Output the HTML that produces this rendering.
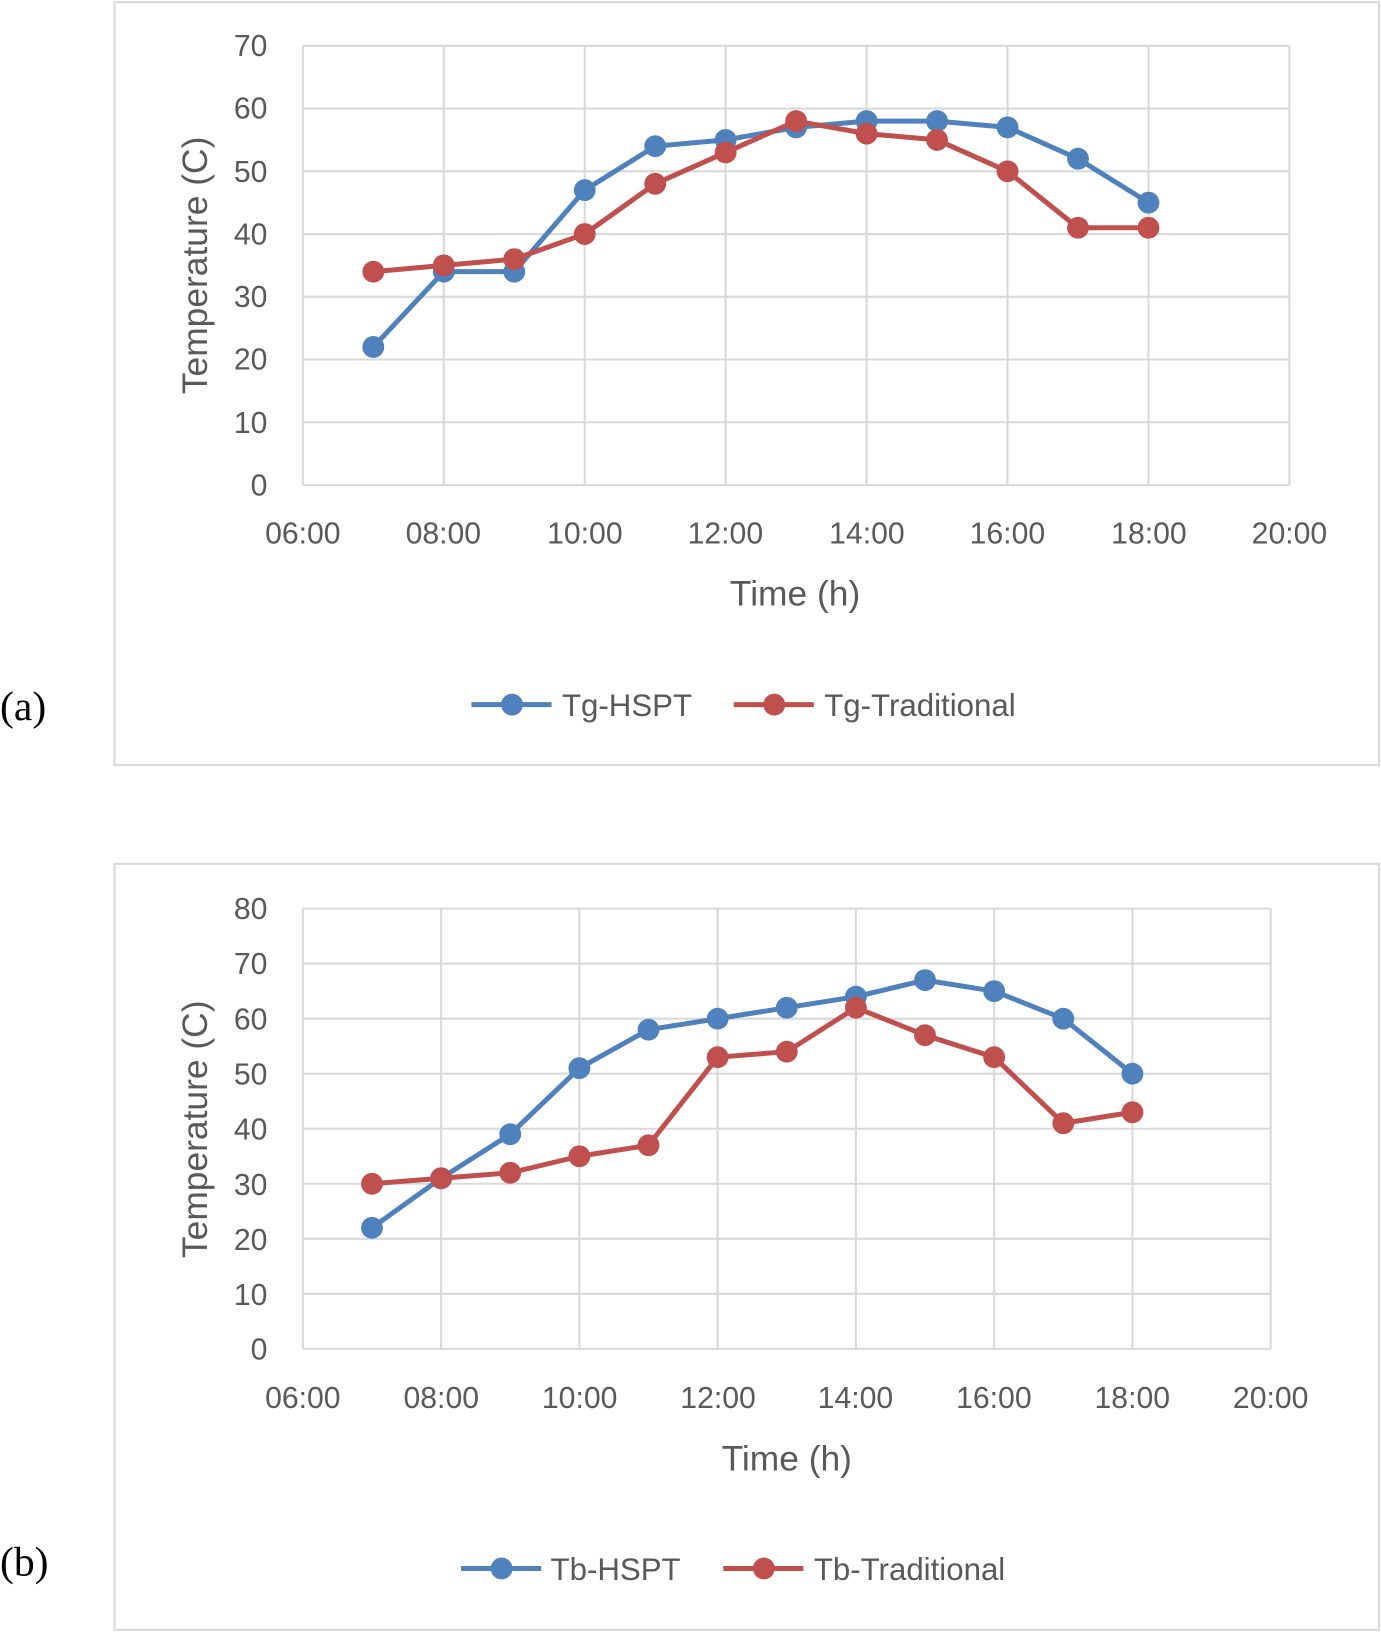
<!DOCTYPE html>
<html><head><meta charset="utf-8"><style>
html,body{margin:0;padding:0;background:#fff}
svg{display:block}
text{font-family:"Liberation Sans",sans-serif;fill:#595959}
.t{font-size:29px}
.l{font-size:30px}
.ti{font-size:34px}
.s{font-family:"Liberation Serif",serif;fill:#000;font-size:40px}
</style></head><body>
<svg id="s" width="1381" height="1633" viewBox="0 0 1327 1569" preserveAspectRatio="none" xmlns="http://www.w3.org/2000/svg">
<rect x="110" y="2" width="1215" height="733" fill="#fff" stroke="#d9d9d9" stroke-width="2"/>
<rect x="110" y="830" width="1215" height="736" fill="#fff" stroke="#d9d9d9" stroke-width="2"/>
<g id="g"></g>
<g class="t" text-anchor="end">
<text x="257" y="54">70</text><text x="257" y="114">60</text><text x="257" y="175">50</text><text x="257" y="235">40</text><text x="257" y="295">30</text><text x="257" y="355">20</text><text x="257" y="416">10</text><text x="257" y="476">0</text>
<text x="257" y="883">80</text><text x="257" y="936">70</text><text x="257" y="989">60</text><text x="257" y="1042">50</text><text x="257" y="1095">40</text><text x="257" y="1148">30</text><text x="257" y="1201">20</text><text x="257" y="1254">10</text><text x="257" y="1306">0</text>
</g>
<g class="t" text-anchor="middle">
<text x="291" y="522">06:00</text><text x="426" y="522">08:00</text><text x="562" y="522">10:00</text><text x="697" y="522">12:00</text><text x="833" y="522">14:00</text><text x="968" y="522">16:00</text><text x="1104" y="522">18:00</text><text x="1239" y="522">20:00</text>
<text x="291" y="1353">06:00</text><text x="424" y="1353">08:00</text><text x="557" y="1353">10:00</text><text x="690" y="1353">12:00</text><text x="822" y="1353">14:00</text><text x="955" y="1353">16:00</text><text x="1088" y="1353">18:00</text><text x="1221" y="1353">20:00</text>
</g>
<text class="ti" x="764" y="582" text-anchor="middle">Time (h)</text>
<text class="ti" x="756" y="1413" text-anchor="middle">Time (h)</text>
<text class="ti" transform="translate(199,255) rotate(-90)" text-anchor="middle">Temperature (C)</text>
<text class="ti" transform="translate(199,1085) rotate(-90)" text-anchor="middle">Temperature (C)</text>
<text class="l" x="540" y="688">Tg-HSPT</text>
<text class="l" x="792" y="688">Tg-Traditional</text>
<text class="l" x="529" y="1518">Tb-HSPT</text>
<text class="l" x="782" y="1518">Tb-Traditional</text>
<text class="s" x="0" y="692">(a)</text>
<text class="s" x="0" y="1514">(b)</text>
</svg>
<script>
var NS="http://www.w3.org/2000/svg",g=document.getElementById("g");
function el(n,a){var e=document.createElementNS(NS,n);for(var k in a)e.setAttribute(k,a[k]);g.appendChild(e);return e;}
function chart(x0,x1,y0,yTop,ymax,A,B,lg){
 var hx=(x1-x0)/14,vy=(y0-yTop)/ymax;
 for(var v=10;v<=ymax;v+=10)el("line",{x1:x0,x2:x1,y1:y0-v*vy,y2:y0-v*vy,stroke:"#d9d9d9","stroke-width":2});
 for(var h=2;h<=14;h+=2)el("line",{x1:x0+h*hx,x2:x0+h*hx,y1:yTop,y2:y0,stroke:"#d9d9d9","stroke-width":2});
 el("line",{x1:x0,x2:x0,y1:yTop,y2:y0,stroke:"#d9d9d9","stroke-width":2});
 el("line",{x1:x0,x2:x1,y1:y0,y2:y0,stroke:"#d9d9d9","stroke-width":2});
 [[A,"#4f81bd"],[B,"#c0504d"]].forEach(function(p){
  var pts=p[0].map(function(v,i){return [x0+(i+1)*hx,y0-v*vy];});
  el("polyline",{points:pts.join(" "),fill:"none",stroke:p[1],"stroke-width":4.8,"stroke-linejoin":"round"});
  pts.forEach(function(q){el("circle",{cx:q[0],cy:q[1],r:10.5,fill:p[1]});});
 });
 lg.forEach(function(l){el("line",{x1:l[0],x2:l[0]+77,y1:l[1],y2:l[1],stroke:l[2],"stroke-width":4.8});el("circle",{cx:l[0]+39,cy:l[1],r:10.5,fill:l[2]});});
}
chart(291,1239,466,44,70,[22,34,34,47,54,55,57,58,58,57,52,45],[34,35,36,40,48,53,58,56,55,50,41,41],[[453,677,"#4f81bd"],[705,677,"#c0504d"]]);
chart(291,1221,1296,873,80,[22,31,39,51,58,60,62,64,67,65,60,50],[30,31,32,35,37,53,54,62,57,53,41,43],[[443,1507,"#4f81bd"],[695,1507,"#c0504d"]]);
</script>
</body></html>
